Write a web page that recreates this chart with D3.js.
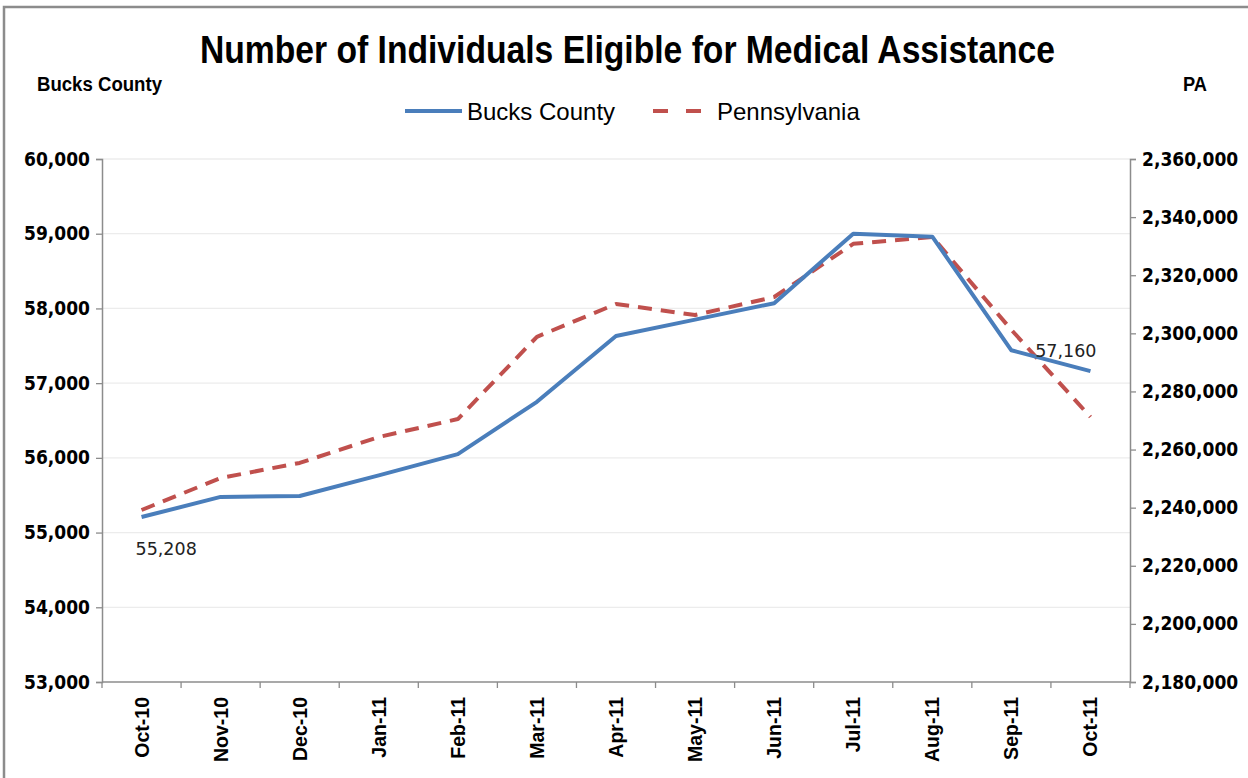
<!DOCTYPE html>
<html>
<head>
<meta charset="utf-8">
<script src="https://cdn.jsdelivr.net/npm/d3@7"></script>
<style>
  body { margin: 0; background: #fff; }
  svg { display: block; }
</style>
</head>
<body>
<svg id="chart" width="1248" height="778"></svg>
<script>
// months on the x axis
var months = ["Oct-10", "Nov-10", "Dec-10", "Jan-11", "Feb-11", "Mar-11", "Apr-11",
              "May-11", "Jun-11", "Jul-11", "Aug-11", "Sep-11", "Oct-11"];
// Bucks County (left axis)
var bucksValues = [55208, 55477, 55490, 55765, 56050, 56750, 57630,
                   57850, 58070, 59000, 58960, 57440, 57160];
// Pennsylvania (right axis)
var paValues = [2239200, 2250200, 2255400, 2264300, 2270500, 2298800, 2310100,
                2306300, 2312500, 2330800, 2333200, 2301200, 2271200];
var leftTicks = [53000, 54000, 55000, 56000, 57000, 58000, 59000, 60000];
var rightTicks = [2180000, 2200000, 2220000, 2240000, 2260000, 2280000,
                  2300000, 2320000, 2340000, 2360000];

var svg = d3.select("#chart");
var plot = {left: 102, right: 1130, top: 159, bottom: 682};
var fmt = d3.format(",");

var x = d3.scaleBand().domain(months).range([plot.left, plot.right]).padding(0);
var yLeft = d3.scaleLinear().domain([53000, 60000]).range([plot.bottom, plot.top]);
var yRight = d3.scaleLinear().domain([2180000, 2360000]).range([plot.bottom, plot.top]);
var cx = function(m){ return x(m) + x.bandwidth() / 2; };

// outer frame
svg.append("rect").attr("x", 4).attr("y", 7).attr("width", 1260).attr("height", 800)
    .attr("fill", "none").attr("stroke", "#8c8c8c").attr("stroke-width", 2.5);

// gridlines
svg.append("g").selectAll("line").data(leftTicks.slice(1)).enter().append("line")
    .attr("x1", plot.left).attr("x2", plot.right)
    .attr("y1", function(d){ return yLeft(d); }).attr("y2", function(d){ return yLeft(d); })
    .attr("stroke", "#ececec").attr("stroke-width", 1.3);

// left axis
var leftAxis = svg.append("g").attr("transform", "translate(" + plot.left + ",0)")
    .call(d3.axisLeft(yLeft).tickValues(leftTicks).tickFormat(fmt).tickSize(6).tickPadding(6));
// right axis
var rightAxis = svg.append("g").attr("transform", "translate(" + plot.right + ",0)")
    .call(d3.axisRight(yRight).tickValues(rightTicks).tickFormat(fmt).tickSize(6).tickPadding(6));
[leftAxis, rightAxis].forEach(function(a){
    a.select(".domain").attr("stroke", "#8c8c8c").attr("stroke-width", 1.5);
    a.selectAll(".tick line").attr("stroke", "#8c8c8c").attr("stroke-width", 1.3);
    a.selectAll("text").attr("fill", "#000")
        .style("font-family", "'DejaVu Sans Condensed', 'DejaVu Sans', sans-serif")
        .style("font-weight", "bold").style("font-size", "19px");
});

// bottom axis: ticks between categories
var xAxis = svg.append("g").attr("transform", "translate(0," + plot.bottom + ")");
xAxis.append("line").attr("x1", plot.left).attr("x2", plot.right)
    .attr("stroke", "#8c8c8c").attr("stroke-width", 1.5);
xAxis.selectAll("line.tk").data(months.concat(["end"])).enter().append("line")
    .attr("class", "tk")
    .attr("x1", function(d, i){ return plot.left + i * x.bandwidth(); })
    .attr("x2", function(d, i){ return plot.left + i * x.bandwidth(); })
    .attr("y1", 0).attr("y2", 6).attr("stroke", "#8c8c8c").attr("stroke-width", 1.3);
xAxis.selectAll("text").data(months).enter().append("text")
    .attr("transform", function(d){ return "translate(" + (cx(d) + 7) + ",15) rotate(-90)"; })
    .attr("text-anchor", "end")
    .style("font-family", "'Liberation Sans', Arial, sans-serif")
    .style("font-weight", "bold").style("font-size", "19.5px")
    .text(function(d){ return d; });

// lines
var bucksLine = d3.line().x(function(d, i){ return cx(months[i]); }).y(function(d){ return yLeft(d); });
var paLine = d3.line().x(function(d, i){ return cx(months[i]); }).y(function(d){ return yRight(d); });

svg.append("path").datum(paValues).attr("d", paLine)
    .attr("fill", "none").attr("stroke", "#c0504d").attr("stroke-width", 4)
    .attr("stroke-dasharray", "14,9").attr("stroke-linejoin", "round");
svg.append("path").datum(bucksValues).attr("d", bucksLine)
    .attr("fill", "none").attr("stroke", "#4a7ebb").attr("stroke-width", 4)
    .attr("stroke-linejoin", "round");

// data labels on first and last Bucks points
var labelFont = "'DejaVu Sans', sans-serif";
svg.append("text")
    .attr("x", cx(months[0]) - 6).attr("y", yLeft(bucksValues[0]) + 38)
    .style("font-family", labelFont).style("font-size", "17.5px").attr("fill", "#222")
    .text(fmt(bucksValues[0]));
svg.append("text")
    .attr("x", cx(months[12]) + 6).attr("y", yLeft(bucksValues[12]) - 14)
    .attr("text-anchor", "end")
    .style("font-family", labelFont).style("font-size", "17.5px").attr("fill", "#222")
    .text(fmt(bucksValues[12]));

// title (condensed to match the narrow original face)
svg.append("text").attr("x", 200).attr("y", 63)
    .attr("textLength", 855).attr("lengthAdjust", "spacingAndGlyphs")
    .style("font-family", "'Liberation Sans', Arial, sans-serif")
    .style("font-weight", "bold").style("font-size", "38px")
    .text("Number of Individuals Eligible for Medical Assistance");

// axis captions
svg.append("text").attr("x", 37).attr("y", 91)
    .attr("textLength", 125).attr("lengthAdjust", "spacingAndGlyphs")
    .style("font-family", "'Liberation Sans', Arial, sans-serif")
    .style("font-weight", "bold").style("font-size", "20px")
    .text("Bucks County");
svg.append("text").attr("x", 1183).attr("y", 91)
    .attr("textLength", 24).attr("lengthAdjust", "spacingAndGlyphs")
    .style("font-family", "'Liberation Sans', Arial, sans-serif")
    .style("font-weight", "bold").style("font-size", "20px")
    .text("PA");

// legend
var legend = svg.append("g");
legend.append("line").attr("x1", 405).attr("x2", 462).attr("y1", 111).attr("y2", 111)
    .attr("stroke", "#4a7ebb").attr("stroke-width", 4);
legend.append("text").attr("x", 467).attr("y", 120)
    .style("font-family", "'Liberation Sans', Arial, sans-serif").style("font-size", "24px")
    .text("Bucks County");
legend.append("line").attr("x1", 653).attr("x2", 702).attr("y1", 111).attr("y2", 111)
    .attr("stroke", "#c0504d").attr("stroke-width", 4).attr("stroke-dasharray", "15,18");
legend.append("text").attr("x", 717).attr("y", 120)
    .style("font-family", "'Liberation Sans', Arial, sans-serif").style("font-size", "24px")
    .text("Pennsylvania");
</script>
</body>
</html>
